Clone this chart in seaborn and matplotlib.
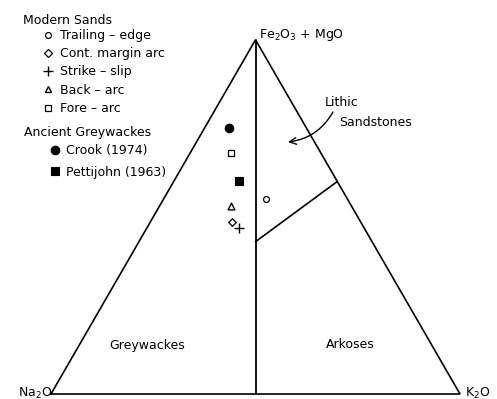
import numpy as np
import pandas as pd
import matplotlib
matplotlib.use("Agg")
import matplotlib.pyplot as plt
import seaborn as sns
from matplotlib.lines import Line2D

sns.set_theme(style="white")
plt.rcParams["font.family"] = ["DejaVu Sans"]
plt.rcParams["text.color"] = "black"
plt.rcParams["legend.labelcolor"] = "black"

# Sample groups and their compositions (percent of Na2O, K2O, Fe2O3+MgO)
groups = ["Trailing – edge", "Cont. margin arc", "Strike – slip", "Back – arc",
          "Fore – arc", "Crook (1974)", "Pettijohn (1963)"]
na2o = [20.0, 31.5, 30.5, 29.5, 22.0, 19.0, 24.0]
k2o = [25.0, 20.0, 22.5, 17.5, 10.0, 6.0, 16.0]
fe_mg = [55.0, 48.5, 47.0, 53.0, 68.0, 75.0, 60.0]

modern_groups = groups[:5]
ancient_groups = groups[5:]

# Field boundary between greywacke and lithic sandstone fields (Na2O, K2O, Fe2O3+MgO)
lithic_na2o = [0.0, 28.5]
lithic_k2o = [40.0, 28.5]
lithic_fe = [60.0, 43.0]

H = np.sqrt(3) / 2


def to_xy(na, k, f):
    na, k, f = np.asarray(na, float), np.asarray(k, float), np.asarray(f, float)
    tot = na + k + f
    return (k + f / 2) / tot, f / tot * H


df = pd.DataFrame({"group": groups, "Na2O": na2o, "K2O": k2o, "FeMg": fe_mg})
df["x"], df["y"] = to_xy(df["Na2O"], df["K2O"], df["FeMg"])

styles = {
    "Trailing – edge": dict(marker="o", s=18, fc="white", lw=0.9),
    "Cont. margin arc": dict(marker="D", s=15, fc="white", lw=0.9),
    "Strike – slip": dict(marker="+", s=42, fc="black", lw=1.0),
    "Back – arc": dict(marker="^", s=24, fc="white", lw=1.0),
    "Fore – arc": dict(marker="s", s=24, fc="white", lw=0.9),
    "Crook (1974)": dict(marker="o", s=38, fc="black", lw=0.8),
    "Pettijohn (1963)": dict(marker="s", s=26, fc="black", lw=0.8),
}

W, Hpx = 497, 399
fig = plt.figure(figsize=(W / 100, Hpx / 100), dpi=100)
ax = fig.add_axes([0, 0, 1, 1])
scale = 409.0
x0, ybase = 51.0, 394.0
ax.set_xlim(-x0 / scale, (W - x0) / scale)
ax.set_ylim(-(Hpx - ybase) / scale, ybase / scale)
ax.set_axis_off()

# Ternary outline and field boundaries
ax.plot([0, 1, 0.5, 0], [0, 0, H, 0], color="black", lw=1.2, solid_joinstyle="miter")
mx, my = to_xy([50, 0], [50, 0], [0, 100])
ax.plot(mx, my, color="black", lw=1.3)
lx, ly = to_xy(lithic_na2o, lithic_k2o, lithic_fe)
ax.plot(lx, ly, color="black", lw=1.2)

for g in groups:
    st = styles[g]
    sub = df[df["group"] == g]
    if st["marker"] == "+":
        sns.scatterplot(data=sub, x="x", y="y", marker="+", s=st["s"], color="black",
                        linewidth=st["lw"], ax=ax, legend=False)
    else:
        sns.scatterplot(data=sub, x="x", y="y", marker=st["marker"], s=st["s"],
                        facecolor=st["fc"], edgecolor="black", linewidth=st["lw"],
                        ax=ax, legend=False)


def fx(px):
    return px / W


def fy(py):
    return 1 - py / Hpx


fs = 9
tkw = dict(transform=fig.transFigure, fontsize=fs, color="black")
ax.text(fx(259), fy(35), "Fe$_2$O$_3$ + MgO", ha="left", va="center", **tkw)
ax.text(fx(52), fy(393), "Na$_2$O", ha="right", va="center", **tkw)
ax.text(fx(465), fy(393), "K$_2$O", ha="left", va="center", **tkw)
ax.text(fx(325), fy(102), "Lithic", ha="left", va="center", **tkw)
ax.text(fx(339), fy(122), "Sandstones", ha="left", va="center", **tkw)
ax.text(fx(147), fy(345), "Greywackes", ha="center", va="center", **tkw)
ax.text(fx(350), fy(345), "Arkoses", ha="center", va="center", **tkw)
ax.annotate("", xy=(fx(288), fy(142)), xytext=(fx(333), fy(112)),
            xycoords="figure fraction", textcoords="figure fraction",
            arrowprops=dict(arrowstyle="->", color="black", lw=1.0,
                            connectionstyle="arc3,rad=-0.25", shrinkA=0, shrinkB=0))

# Legend headings and entries
ax.text(fx(23), fy(20), "Modern Sands", ha="left", va="center", **tkw)
ax.text(fx(24), fy(133), "Ancient Greywackes", ha="left", va="center", **tkw)


def handle(g):
    st = styles[g]
    if st["marker"] == "+":
        return Line2D([], [], ls="none", marker="+", color="black",
                      markersize=np.sqrt(st["s"]), markeredgewidth=st["lw"])
    return Line2D([], [], ls="none", marker=st["marker"], markerfacecolor=st["fc"],
                  markeredgecolor="black", markersize=np.sqrt(st["s"]),
                  markeredgewidth=st["lw"])


leg1 = ax.legend([handle(g) for g in modern_groups], modern_groups,
                 loc="upper left", bbox_to_anchor=(fx(42), fy(29)),
                 bbox_transform=fig.transFigure, frameon=False, fontsize=fs,
                 handlelength=0.9, handletextpad=0.5, labelspacing=0.42,
                 borderpad=0, borderaxespad=0, labelcolor="black")
ax.add_artist(leg1)
leg2 = ax.legend([handle(g) for g in ancient_groups], ancient_groups,
                 loc="upper left", bbox_to_anchor=(fx(49), fy(144)),
                 bbox_transform=fig.transFigure, frameon=False, fontsize=fs,
                 handlelength=0.9, handletextpad=0.5, labelspacing=0.7,
                 borderpad=0, borderaxespad=0, labelcolor="black")

fig.savefig("out.png", dpi=100, facecolor="white")
